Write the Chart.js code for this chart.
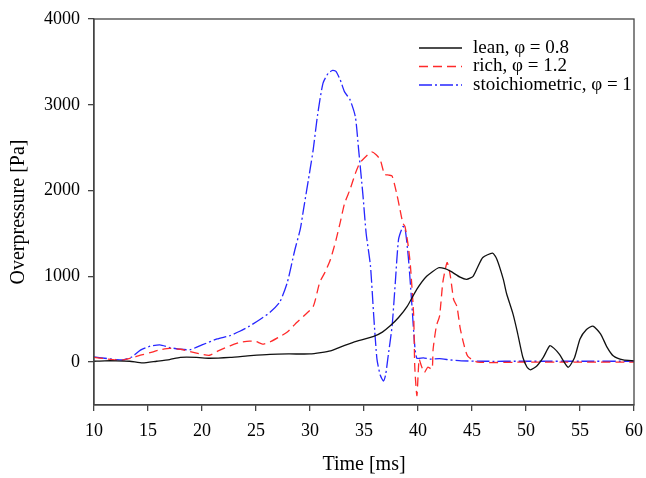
<!DOCTYPE html>
<html>
<head>
<meta charset="utf-8">
<script src="https://cdn.jsdelivr.net/npm/chart.js@4.4.1/dist/chart.umd.min.js"></script>
<style>
  html, body { margin: 0; padding: 0; background: #fff; }
  #wrap { width: 646px; height: 478px; }
</style>
</head>
<body>
<div id="wrap"><canvas id="pressureChart" width="646" height="478"></canvas></div>
<script>
// time [ms] / overpressure [Pa]
const leanTime = [10, 11, 12, 13.3, 14.5, 15.8, 17, 18, 19.5, 20.7, 22.6, 24.5, 26.3, 28, 30, 31, 31.9, 32.8, 34, 35.9, 36.7, 37.4, 38.2, 39, 39.9, 40.8, 41.9, 42.5, 43, 43.9, 44.5, 45.1, 45.5, 46, 46.9, 47.3, 47.9, 48.2, 48.8, 49.2, 49.7, 50.1, 50.4, 51, 51.6, 52.2, 52.6, 53.1, 53.9, 54.5, 55, 55.6, 56.2, 56.9, 57.5, 58.1, 59, 60];
const leanValues = [10, 15, 15, 10, -10, 10, 30, 55, 55, 45, 55, 75, 90, 95, 95, 110, 130, 175, 230, 300, 350, 420, 520, 650, 850, 1000, 1100, 1090, 1060, 990, 965, 1000, 1100, 1220, 1270, 1200, 965, 800, 560, 350, 60, -60, -90, -45, 55, 190, 160, 90, -60, 55, 270, 380, 420, 330, 175, 70, 25, 15];

const richTime = [10, 11, 12, 12.7, 13.5, 14.3, 15.2, 16, 17, 18, 19, 20, 20.7, 21.5, 22.6, 23.5, 24.4, 25, 25.6, 26.3, 27.1, 27.9, 28.6, 29.4, 30.3, 30.9, 31.4, 31.9, 32.4, 32.8, 33.2, 33.7, 34.2, 34.6, 35.2, 35.7, 36.1, 36.5, 36.9, 37.3, 37.6, 38, 38.3, 38.6, 38.8, 39.1, 39.3, 39.6, 39.7, 39.9, 40.1, 40.3, 40.6, 40.9, 41.3, 41.4, 41.7, 42, 42.3, 42.7, 43, 43.3, 43.6, 43.9, 44.2, 44.6, 45.5, 50, 55, 60];
const richValues = [55, 40, 25, 25, 50, 80, 110, 140, 160, 150, 120, 90, 80, 130, 190, 230, 245, 240, 210, 235, 290, 350, 440, 535, 650, 930, 1050, 1200, 1420, 1630, 1850, 2010, 2200, 2320, 2400, 2450, 2420, 2360, 2190, 2180, 2170, 1980, 1800, 1620, 1580, 1350, 1120, 540, -50, -390, 35, -40, -120, -60, -80, 150, 420, 540, 930, 1160, 1000, 730, 650, 400, 230, 70, 0, 0, 0, 0];

const stoichTime = [10, 11, 12, 12.7, 13.5, 14.3, 15.2, 16.1, 17, 18, 18.9, 20, 21.4, 22.6, 23.5, 24.4, 25.4, 26.3, 27.2, 27.9, 28.6, 29.1, 29.4, 30, 30.3, 30.7, 31.2, 31.7, 32.1, 32.4, 32.8, 33.2, 33.7, 34.2, 34.5, 34.9, 35.2, 35.6, 35.9, 36.2, 36.5, 36.8, 37, 37.2, 37.6, 37.9, 38.2, 38.6, 38.8, 39.1, 39.4, 39.7, 39.9, 40.5, 41.1, 42, 43, 44, 46, 50, 55, 60];
const stoichValues = [60, 45, 30, 25, 60, 140, 185, 200, 170, 150, 145, 200, 270, 310, 360, 420, 500, 580, 700, 930, 1310, 1550, 1780, 2240, 2480, 2880, 3250, 3370, 3400, 3390, 3290, 3150, 3060, 2860, 2480, 1950, 1500, 1120, 540, 35, -150, -220, -150, 35, 420, 930, 1430, 1580, 1560, 1230, 730, 190, 45, 50, 35, 40, 25, 15, 10, 10, 10, 10];

const seriesLabels = ["lean, \u03c6 = 0.8", "rich, \u03c6 = 1.2", "stoichiometric, \u03c6 = 1"];
const xTicks = [10, 15, 20, 25, 30, 35, 40, 45, 50, 55, 60];
const yTicks = [0, 1000, 2000, 3000, 4000];

const SERIF = "'Liberation Serif', 'Times New Roman', serif";
const AXIS = "#444";

function toPoints(ts, vs) {
  return ts.map((t, i) => ({ x: t, y: vs[i] }));
}

// box round the plot + legend inside the top right corner
const framePlugin = {
  id: "frame",
  afterDatasetsDraw(chart) {
    const { ctx, chartArea: a } = chart;
    ctx.save();
    ctx.strokeStyle = AXIS;
    ctx.lineWidth = 1.3;
    ctx.strokeRect(a.left, a.top, a.right - a.left, a.bottom - a.top);

    ctx.font = "19px " + SERIF;
    ctx.textBaseline = "middle";
    ctx.fillStyle = "#000";
    chart.data.datasets.forEach((ds, i) => {
      const y = 48 + i * 18.5;
      ctx.beginPath();
      ctx.strokeStyle = ds.borderColor;
      ctx.lineWidth = ds.borderWidth;
      ctx.setLineDash(ds.borderDash || []);
      ctx.moveTo(419, y);
      ctx.lineTo(462, y);
      ctx.stroke();
      ctx.setLineDash([]);
      ctx.fillText(ds.label, 473, y);
    });
    ctx.restore();
  },
};

const ctx = document.getElementById("pressureChart").getContext("2d");
new Chart(ctx, {
  type: "line",
  data: {
    datasets: [
      {
        label: seriesLabels[0],
        data: toPoints(leanTime, leanValues),
        borderColor: "#111",
        borderWidth: 1.3,
        tension: 0.2,
      },
      {
        label: seriesLabels[1],
        data: toPoints(richTime, richValues),
        borderColor: "#ff2a2a",
        borderWidth: 1.3,
        borderDash: [9, 5],
        tension: 0.2,
      },
      {
        label: seriesLabels[2],
        data: toPoints(stoichTime, stoichValues),
        borderColor: "#2626ff",
        borderWidth: 1.3,
        borderDash: [13, 3, 2, 3],
        tension: 0.2,
      },
    ],
  },
  options: {
    responsive: false,
    animation: false,
    parsing: false,
    elements: { point: { radius: 0 } },
    layout: { padding: { left: 0, right: 12, top: 19, bottom: 1 } },
    plugins: {
      legend: { display: false },
      tooltip: { enabled: false },
    },
    scales: {
      x: {
        type: "linear",
        min: 10,
        max: 60,
        afterBuildTicks: (s) => { s.ticks = xTicks.map((v) => ({ value: v })); },
        afterFit: (s) => { s.height = 72; s.paddingLeft = 0; s.paddingRight = 0; },
        grid: { drawOnChartArea: false, drawTicks: true, tickLength: 6, color: AXIS, lineWidth: 1.3 },
        border: { color: AXIS, width: 1.3 },
        ticks: { color: "#000", padding: 9, maxRotation: 0, font: { family: SERIF, size: 18 }, callback: (v) => String(v) },
        title: { display: true, text: "Time [ms]", color: "#000", padding: 0, font: { family: SERIF, size: 20 } },
      },
      y: {
        type: "linear",
        min: -500,
        max: 4000,
        afterBuildTicks: (s) => { s.ticks = yTicks.map((v) => ({ value: v })); },
        afterFit: (s) => { s.width = 94; s.paddingTop = 0; s.paddingBottom = 0; },
        grid: { drawOnChartArea: false, drawTicks: true, tickLength: 6, color: AXIS, lineWidth: 1.3 },
        border: { color: AXIS, width: 1.3 },
        ticks: { color: "#000", padding: 8, font: { family: SERIF, size: 18 }, callback: (v) => String(v) },
        title: { display: true, text: "Overpressure [Pa]", color: "#000", padding: { top: 7, bottom: 0 }, font: { family: SERIF, size: 20 } },
      },
    },
  },
  plugins: [framePlugin],
});
</script>
</body>
</html>
